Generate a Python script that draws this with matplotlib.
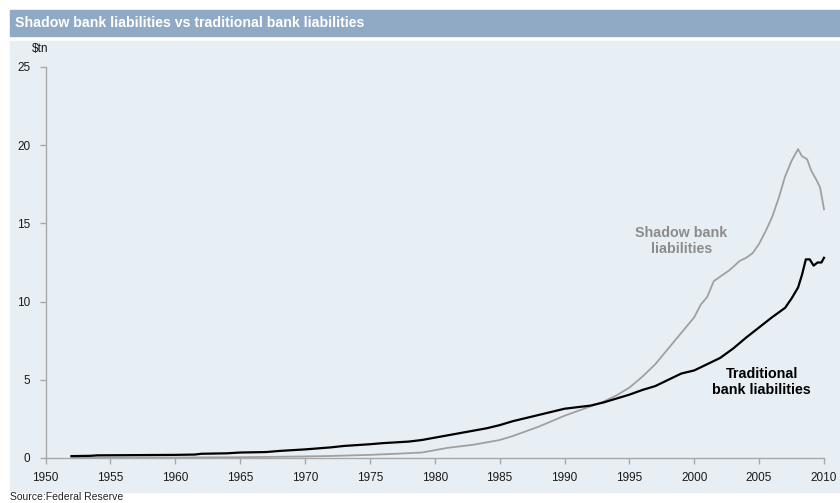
import matplotlib.pyplot as plt
from matplotlib.patches import Rectangle

# === Data ($tn) ===
trad_years = [1952.0, 1953.5, 1954.0, 1956, 1958, 1960, 1961.5, 1962, 1964, 1965,
              1967, 1968, 1970, 1972, 1973, 1975, 1976, 1978, 1979, 1980,
              1981, 1982, 1983, 1984, 1985, 1986, 1987, 1988, 1989, 1990,
              1991, 1992, 1993, 1994, 1995, 1996, 1997, 1998, 1999, 2000,
              2001, 2002, 2003, 2004, 2005, 2006, 2007, 2007.5, 2008, 2008.3,
              2008.6, 2008.9, 2009.2, 2009.5, 2009.8, 2010]
trad_vals = [0.12, 0.14, 0.17, 0.18, 0.19, 0.20, 0.22, 0.27, 0.30, 0.35,
             0.38, 0.45, 0.55, 0.68, 0.77, 0.88, 0.95, 1.05, 1.15, 1.30,
             1.45, 1.60, 1.75, 1.90, 2.10, 2.35, 2.55, 2.75, 2.95, 3.15,
             3.25, 3.35, 3.55, 3.80, 4.05, 4.35, 4.60, 5.00, 5.40, 5.60,
             6.00, 6.40, 7.00, 7.70, 8.35, 9.00, 9.60, 10.20, 10.90, 11.70,
             12.70, 12.70, 12.30, 12.50, 12.50, 12.80]

shadow_years = [1952, 1960, 1965, 1968, 1970, 1972, 1975, 1977, 1979, 1980,
                1981, 1982, 1983, 1984, 1985, 1986, 1987, 1988, 1989, 1990,
                1991, 1992, 1993, 1994, 1995, 1996, 1997, 1998, 1999, 2000,
                2000.5, 2001, 2001.5, 2002, 2002.7, 2003.5, 2004, 2004.5, 2005, 2005.5,
                2006, 2006.5, 2007, 2007.5, 2008, 2008.3, 2008.7, 2009, 2009.4, 2009.7,
                2010]
shadow_vals = [0.02, 0.03, 0.05, 0.08, 0.10, 0.13, 0.20, 0.27, 0.35, 0.50,
               0.65, 0.75, 0.85, 1.00, 1.15, 1.40, 1.70, 2.00, 2.35, 2.70,
               3.00, 3.30, 3.60, 4.00, 4.50, 5.20, 6.00, 7.00, 8.00, 9.00,
               9.80, 10.30, 11.30, 11.60, 12.00, 12.60, 12.80, 13.10, 13.70, 14.50,
               15.40, 16.60, 18.00, 19.00, 19.75, 19.30, 19.10, 18.40, 17.80, 17.30,
               15.90]

x_ticks = list(range(1950, 2011, 5))
y_ticks = [0, 5, 10, 15, 20, 25]

plt.rcParams['font.family'] = ['Liberation Sans', 'DejaVu Sans']

fig = plt.figure(figsize=(8.4, 5.03), dpi=100)
W, H = 840, 503

# --- Title bar and panel background ---
fig.patches.append(Rectangle((10 / W, (H - 36) / H), 830 / W, 26 / H,
                             transform=fig.transFigure, color="#90aac6", zorder=-2))
fig.patches.append(Rectangle((10 / W, (H - 492) / H), 830 / W, 451 / H,
                             transform=fig.transFigure, color="#e8eff4", zorder=-2))
fig.text(15 / W, (H - 23) / H, "Shadow bank liabilities vs traditional bank liabilities",
         color="white", fontsize=10.2, fontweight="bold", va="center", ha="left")
fig.text(32 / W, (H - 49) / H, "\\$tn", fontsize=8.5, va="center", ha="left", color="#111111")
fig.text(10 / W, (H - 497) / H, "Source:Federal Reserve", fontsize=7.5, va="center",
         ha="left", color="#222222")

# --- Axes ---
ax = fig.add_axes([45.5 / W, 45 / H, (824 - 45.5) / W, 391 / H], zorder=2)
ax.set_facecolor("none")

ax.plot(shadow_years, shadow_vals, color="#a0a0a0", linewidth=1.3, clip_on=False)
ax.plot(trad_years, trad_vals, color="black", linewidth=1.6, clip_on=False)

ax.set_xlim(1950, 2010)
ax.set_ylim(0, 25)
ax.set_xticks(x_ticks)
ax.set_yticks(y_ticks)

for side in ["top", "right"]:
    ax.spines[side].set_visible(False)
for side in ["left", "bottom"]:
    ax.spines[side].set_color("#a8a8a8")
    ax.spines[side].set_linewidth(1.0)
ax.tick_params(axis="both", colors="#a8a8a8", length=4, width=1.0, labelsize=8.5,
               labelcolor="#1a1a1a")
ax.tick_params(axis="x", pad=6)
ax.tick_params(axis="y", pad=7)

# --- Annotations ---
ax.text(1999.0, 13.9, "Shadow bank\nliabilities", color="#8c8c8c", fontsize=10.3,
        fontweight="bold", ha="center", va="center", linespacing=1.2)
ax.text(2005.2, 4.85, "Traditional\nbank liabilities", color="black", fontsize=10.3,
        fontweight="bold", ha="center", va="center", linespacing=1.2)

fig.savefig("out.png", dpi=100)
